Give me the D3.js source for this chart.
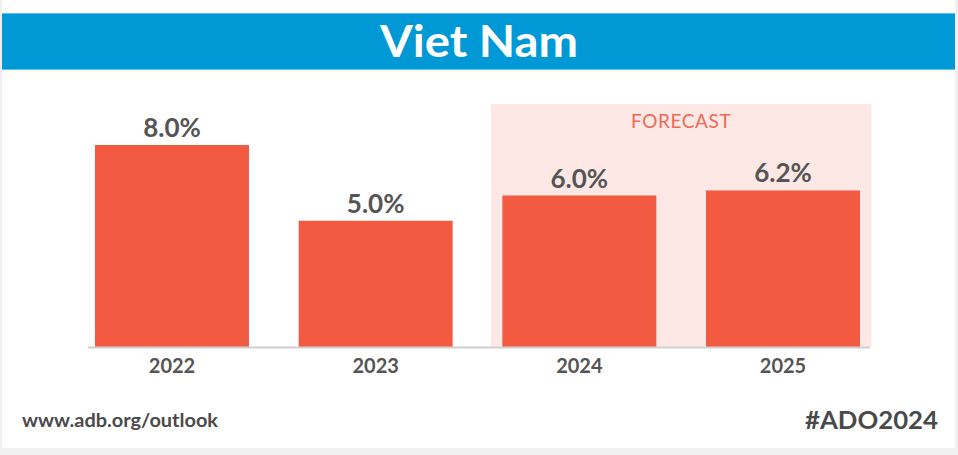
<!DOCTYPE html>
<html>
<head>
<meta charset="utf-8">
<script src="https://cdn.jsdelivr.net/npm/d3@7"></script>
<style>
html,body{margin:0;padding:0;background:#f0f0f0;}
svg{display:block;}
</style>
</head>
<body>
<svg id="chart" width="958" height="455"></svg>
<script>
const title = "Viet Nam";
const years = ["2022", "2023", "2024", "2025"];
const growth = [8.0, 5.0, 6.0, 6.2];
const forecastYears = ["2024", "2025"];
const forecastLabel = "FORECAST";
const sourceText = "www.adb.org/outlook";
const hashtag = "#ADO2024";

const svg = d3.select("#chart");
const font = "Lato, 'Open Sans', sans-serif";

// card
svg.append("rect").attr("x", 2).attr("y", 0).attr("width", 953).attr("height", 448).attr("fill", "#ffffff");

// header
svg.append("rect").attr("x", 2).attr("y", 13).attr("width", 953).attr("height", 57).attr("fill", "#0099d5");
svg.append("rect").attr("x", 2).attr("y", 13).attr("width", 953).attr("height", 1).attr("fill", "#5cc3ec");
svg.append("rect").attr("x", 2).attr("y", 69).attr("width", 953).attr("height", 1).attr("fill", "#5cc3ec");
svg.append("text").attr("x", 479).attr("y", 57).attr("text-anchor", "middle")
  .attr("font-family", font).attr("font-weight", 700).attr("font-size", 43)
  .attr("textLength", 198).attr("lengthAdjust", "spacingAndGlyphs")
  .attr("fill", "#ffffff").text(title);

const x = d3.scaleBand().domain(years).range([95, 860]).paddingInner(0.244).paddingOuter(0);
const y = d3.scaleLinear().domain([0, 8]).range([347, 145]);
const pad = (x.step() - x.bandwidth()) * 0.23;

// forecast band
const fx0 = x(forecastYears[0]) - pad;
const fx1 = x(forecastYears[forecastYears.length - 1]) + x.bandwidth() + pad;
svg.append("rect").attr("x", fx0).attr("y", 104).attr("width", fx1 - fx0).attr("height", y(0) - 104)
  .attr("fill", "#fde8e5");
svg.append("text").attr("x", (fx0 + fx1) / 2).attr("y", 128).attr("text-anchor", "middle")
  .attr("font-family", font).attr("font-weight", 400).attr("font-size", 19).attr("letter-spacing", 0.6)
  .attr("fill", "#ee6a55").text(forecastLabel);

// bars
const data = years.map((yr, i) => ({year: yr, value: growth[i]}));
svg.selectAll("rect.bar").data(data).join("rect").attr("class", "bar")
  .attr("x", d => x(d.year)).attr("width", x.bandwidth())
  .attr("y", d => y(d.value)).attr("height", d => y(0) - y(d.value))
  .attr("fill", "#f25a41");

// value labels
svg.selectAll("text.val").data(data).join("text").attr("class", "val")
  .attr("x", d => x(d.year) + x.bandwidth() / 2).attr("y", d => y(d.value) - 8)
  .attr("text-anchor", "middle").attr("font-family", font).attr("font-weight", 700)
  .attr("font-size", 26).attr("fill", "#555555").text(d => d.value.toFixed(1) + "%");

// baseline axis
const axis = d3.axisBottom(x).tickSize(0).tickPadding(12);
const g = svg.append("g").attr("transform", `translate(0,${y(0)})`).call(axis);
g.select(".domain").attr("d", `M88,0.5H870`).attr("stroke", "#cfcfcf").attr("stroke-width", 2);
g.selectAll(".tick text").attr("font-family", font).attr("font-weight", 700)
  .attr("font-size", 20).attr("fill", "#555555").attr("dy", "0.71em");

// footer
svg.append("text").attr("x", 22).attr("y", 427).attr("font-family", font).attr("font-weight", 700)
  .attr("font-size", 19).attr("textLength", 196).attr("lengthAdjust", "spacingAndGlyphs")
  .attr("fill", "#4a4a4a").text(sourceText);
svg.append("text").attr("x", 938).attr("y", 429).attr("text-anchor", "end").attr("font-family", font)
  .attr("font-weight", 700).attr("font-size", 24).attr("textLength", 133).attr("lengthAdjust", "spacingAndGlyphs")
  .attr("fill", "#4a4a4a").text(hashtag);
</script>
</body>
</html>
